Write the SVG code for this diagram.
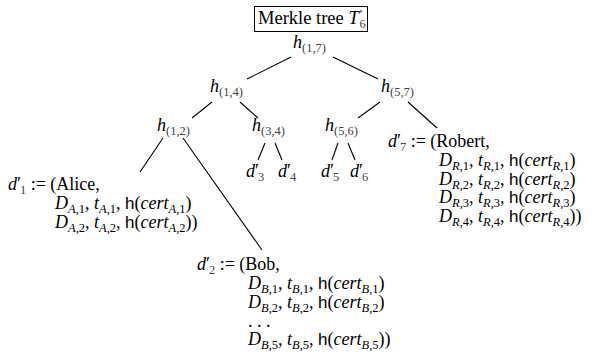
<svg xmlns="http://www.w3.org/2000/svg" width="593" height="364" viewBox="0 0 593 364">
<style>
text{font-family:"Liberation Serif","DejaVu Serif",serif;font-size:18px;fill:#000}
.i{font-style:italic}
.s{font-size:12.5px}
.g{fill:#444}
.sf{font-family:"Liberation Sans","DejaVu Sans",sans-serif;font-size:17px}
.c line{stroke:#000;stroke-width:1.1}
</style>
<rect width="593" height="364" fill="#fff"/>
<g id="title">
<rect x="254.5" y="6.5" width="113" height="25" fill="none" stroke="#000" stroke-width="1"/>
<text x="258" y="24" style="font-size:18.5px">Merkle tree <tspan class="i">T</tspan><tspan class="s" dx="1" dy="-6">′</tspan><tspan class="s g" dx="-3" dy="10">6</tspan></text>
</g>
<g class="c" id="connectors">
<line x1="291" y1="57" x2="247" y2="79"/>
<line x1="333" y1="57" x2="378" y2="79"/>
<line x1="212" y1="102" x2="192" y2="118"/>
<line x1="240" y1="102" x2="258" y2="118"/>
<line x1="380" y1="102" x2="358" y2="118"/>
<line x1="408" y1="102" x2="437" y2="128"/>
<line x1="163" y1="138" x2="140" y2="172"/>
<line x1="183" y1="138" x2="262" y2="250"/>
<line x1="265" y1="143" x2="258" y2="160"/>
<line x1="275" y1="143" x2="282" y2="160"/>
<line x1="338" y1="143" x2="332" y2="160"/>
<line x1="348" y1="143" x2="355" y2="160"/>
</g>
<g id="h17"><text x="293" y="48"><tspan class="i">h</tspan><tspan class="s g" dy="4">(1,7)</tspan></text></g>
<g id="h14"><text x="210" y="92"><tspan class="i">h</tspan><tspan class="s g" dy="4">(1,4)</tspan></text></g>
<g id="h57"><text x="381" y="92"><tspan class="i">h</tspan><tspan class="s g" dy="4">(5,7)</tspan></text></g>
<g id="h12"><text x="157" y="131"><tspan class="i">h</tspan><tspan class="s g" dy="4">(1,2)</tspan></text></g>
<g id="h34"><text x="252" y="131"><tspan class="i">h</tspan><tspan class="s g" dy="4">(3,4)</tspan></text></g>
<g id="h56"><text x="325" y="131"><tspan class="i">h</tspan><tspan class="s g" dy="4">(5,6)</tspan></text></g>
<g id="d3"><text x="246" y="177"><tspan class="i">d</tspan>′<tspan class="s g" dx="-1" dy="4">3</tspan></text></g>
<g id="d4"><text x="278" y="177"><tspan class="i">d</tspan>′<tspan class="s g" dx="-1" dy="4">4</tspan></text></g>
<g id="d5"><text x="321" y="177"><tspan class="i">d</tspan>′<tspan class="s g" dx="-1" dy="4">5</tspan></text></g>
<g id="d6"><text x="350" y="177"><tspan class="i">d</tspan>′<tspan class="s g" dx="-1" dy="4">6</tspan></text></g>
<g id="d1">
<text x="8" y="190"><tspan class="i">d</tspan>′<tspan class="s g" dx="-1" dy="4">1</tspan><tspan dy="-4"> := (Alice,</tspan></text>
<text x="55" y="209"><tspan class="i">D</tspan><tspan class="s" dy="4"><tspan class="i">A</tspan>,1</tspan><tspan dy="-4">, </tspan><tspan class="i">t</tspan><tspan class="s" dy="4"><tspan class="i">A</tspan>,1</tspan><tspan dy="-4">, </tspan><tspan class="sf">h</tspan>(<tspan class="i">cert</tspan><tspan class="s" dy="4"><tspan class="i">A</tspan>,1</tspan><tspan dy="-4">)</tspan></text>
<text x="55" y="228"><tspan class="i">D</tspan><tspan class="s" dy="4"><tspan class="i">A</tspan>,2</tspan><tspan dy="-4">, </tspan><tspan class="i">t</tspan><tspan class="s" dy="4"><tspan class="i">A</tspan>,2</tspan><tspan dy="-4">, </tspan><tspan class="sf">h</tspan>(<tspan class="i">cert</tspan><tspan class="s" dy="4"><tspan class="i">A</tspan>,2</tspan><tspan dy="-4">))</tspan></text>
</g>
<g id="d2">
<text x="197" y="270"><tspan class="i">d</tspan>′<tspan class="s g" dx="-1" dy="4">2</tspan><tspan dy="-4"> := (Bob,</tspan></text>
<text x="248" y="289"><tspan class="i">D</tspan><tspan class="s" dy="4"><tspan class="i">B</tspan>,1</tspan><tspan dy="-4">, </tspan><tspan class="i">t</tspan><tspan class="s" dy="4"><tspan class="i">B</tspan>,1</tspan><tspan dy="-4">, </tspan><tspan class="sf">h</tspan>(<tspan class="i">cert</tspan><tspan class="s" dy="4"><tspan class="i">B</tspan>,1</tspan><tspan dy="-4">)</tspan></text>
<text x="248" y="308"><tspan class="i">D</tspan><tspan class="s" dy="4"><tspan class="i">B</tspan>,2</tspan><tspan dy="-4">, </tspan><tspan class="i">t</tspan><tspan class="s" dy="4"><tspan class="i">B</tspan>,2</tspan><tspan dy="-4">, </tspan><tspan class="sf">h</tspan>(<tspan class="i">cert</tspan><tspan class="s" dy="4"><tspan class="i">B</tspan>,2</tspan><tspan dy="-4">)</tspan></text>
<text x="248" y="327">. . .</text>
<text x="248" y="345"><tspan class="i">D</tspan><tspan class="s" dy="4"><tspan class="i">B</tspan>,5</tspan><tspan dy="-4">, </tspan><tspan class="i">t</tspan><tspan class="s" dy="4"><tspan class="i">B</tspan>,5</tspan><tspan dy="-4">, </tspan><tspan class="sf">h</tspan>(<tspan class="i">cert</tspan><tspan class="s" dy="4"><tspan class="i">B</tspan>,5</tspan><tspan dy="-4">))</tspan></text>
</g>
<g id="d7">
<text x="388" y="147"><tspan class="i">d</tspan>′<tspan class="s g" dx="-1" dy="4">7</tspan><tspan dy="-4"> := (Robert,</tspan></text>
<text x="439" y="166"><tspan class="i">D</tspan><tspan class="s" dy="4"><tspan class="i">R</tspan>,1</tspan><tspan dy="-4">, </tspan><tspan class="i">t</tspan><tspan class="s" dy="4"><tspan class="i">R</tspan>,1</tspan><tspan dy="-4">, </tspan><tspan class="sf">h</tspan>(<tspan class="i">cert</tspan><tspan class="s" dy="4"><tspan class="i">R</tspan>,1</tspan><tspan dy="-4">)</tspan></text>
<text x="439" y="184.5"><tspan class="i">D</tspan><tspan class="s" dy="4"><tspan class="i">R</tspan>,2</tspan><tspan dy="-4">, </tspan><tspan class="i">t</tspan><tspan class="s" dy="4"><tspan class="i">R</tspan>,2</tspan><tspan dy="-4">, </tspan><tspan class="sf">h</tspan>(<tspan class="i">cert</tspan><tspan class="s" dy="4"><tspan class="i">R</tspan>,2</tspan><tspan dy="-4">)</tspan></text>
<text x="439" y="203"><tspan class="i">D</tspan><tspan class="s" dy="4"><tspan class="i">R</tspan>,3</tspan><tspan dy="-4">, </tspan><tspan class="i">t</tspan><tspan class="s" dy="4"><tspan class="i">R</tspan>,3</tspan><tspan dy="-4">, </tspan><tspan class="sf">h</tspan>(<tspan class="i">cert</tspan><tspan class="s" dy="4"><tspan class="i">R</tspan>,3</tspan><tspan dy="-4">)</tspan></text>
<text x="439" y="221.5"><tspan class="i">D</tspan><tspan class="s" dy="4"><tspan class="i">R</tspan>,4</tspan><tspan dy="-4">, </tspan><tspan class="i">t</tspan><tspan class="s" dy="4"><tspan class="i">R</tspan>,4</tspan><tspan dy="-4">, </tspan><tspan class="sf">h</tspan>(<tspan class="i">cert</tspan><tspan class="s" dy="4"><tspan class="i">R</tspan>,4</tspan><tspan dy="-4">))</tspan></text>
</g>
</svg>
